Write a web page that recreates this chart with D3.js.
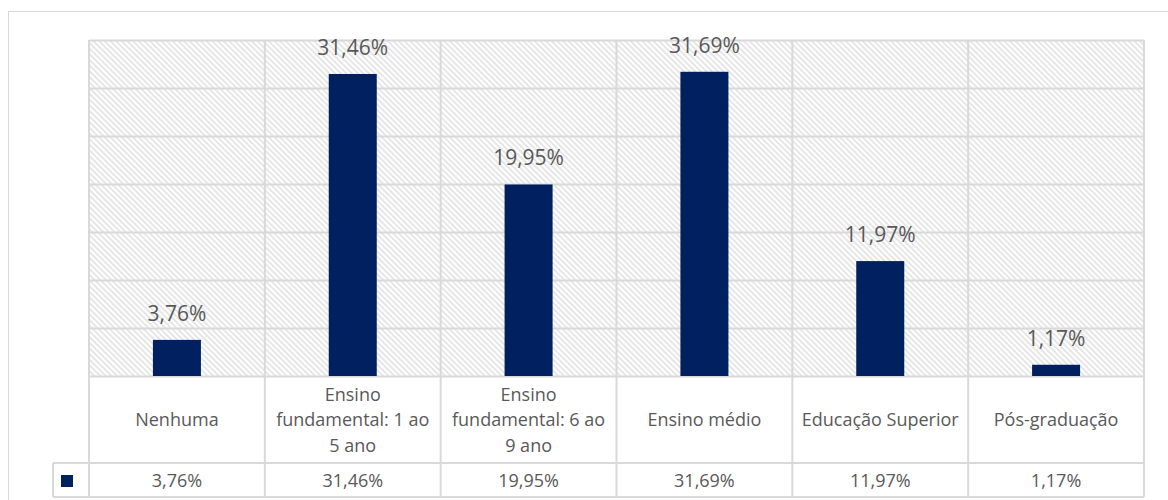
<!DOCTYPE html>
<html>
<head>
<meta charset="utf-8">
<script src="https://cdn.jsdelivr.net/npm/d3@7"></script>
<style>
  html, body { margin: 0; padding: 0; background: #fff; }
  svg { display: block; }
  text { font-family: "Open Sans", "Noto Sans", sans-serif; fill: #595959; }
</style>
</head>
<body>
<svg id="chart" width="1168" height="500"></svg>
<script>
// Escolaridade — share of respondents per level
const categories = [
  "Nenhuma",
  "Ensino fundamental: 1 ao 5 ano",
  "Ensino fundamental: 6 ao 9 ano",
  "Ensino médio",
  "Educação Superior",
  "Pós-graduação"
];
const values = [3.76, 31.46, 19.95, 31.69, 11.97, 1.17];
const yTicks = [0, 5, 10, 15, 20, 25, 30, 35];

const fmt = v => v.toFixed(2).replace(".", ",") + "%";

const svg = d3.select("#chart");
const W = 1168, H = 500;

const plot = { left: 89, right: 1144, top: 40, bottom: 376 };
const table = { catBottom: 463, valBottom: 497, keyLeft: 53 };
const gridColor = "#d9d9d9";
const barColor = "#002060";

// hatched plot background
const defs = svg.append("defs");
const pat = defs.append("pattern")
  .attr("id", "hatch")
  .attr("patternUnits", "userSpaceOnUse")
  .attr("width", 4).attr("height", 4)
  .attr("patternTransform", "rotate(-45)");
pat.append("rect").attr("width", 4).attr("height", 4).attr("fill", "#fff");
pat.append("line")
  .attr("x1", 1).attr("y1", 0).attr("x2", 1).attr("y2", 4)
  .attr("stroke", "#dedede").attr("stroke-width", 1.5);

// chart frame
svg.append("rect")
  .attr("x", 8.5).attr("y", 11.5)
  .attr("width", W + 20).attr("height", H + 20)
  .attr("fill", "none").attr("stroke", gridColor).attr("stroke-width", 1);

svg.append("rect")
  .attr("x", plot.left).attr("y", plot.top)
  .attr("width", plot.right - plot.left).attr("height", plot.bottom - plot.top)
  .attr("fill", "url(#hatch)");

// scales
const y = d3.scaleLinear().domain([0, 35]).range([plot.bottom, plot.top]);
const xCell = d3.scaleBand().domain(categories).range([plot.left, plot.right]).padding(0);
const xBar = d3.scaleBand().domain(categories).range([plot.left, plot.right])
  .paddingInner(0.727).paddingOuter(0.3635);

// horizontal gridlines
const yAxis = d3.axisLeft(y).tickValues(yTicks).tickSize(-(plot.right - plot.left)).tickFormat("");
const gy = svg.append("g").attr("transform", `translate(${plot.left},0)`).call(yAxis);
gy.select(".domain").remove();
gy.selectAll(".tick line").attr("stroke", gridColor).attr("stroke-width", 2);

// bars
svg.append("g").selectAll("rect")
  .data(values)
  .join("rect")
  .attr("x", (d, i) => xBar(categories[i]))
  .attr("y", d => y(d))
  .attr("width", xBar.bandwidth())
  .attr("height", d => y(0) - y(d))
  .attr("fill", barColor);

// value labels above bars
svg.append("g").selectAll("text")
  .data(values)
  .join("text")
  .attr("x", (d, i) => xBar(categories[i]) + xBar.bandwidth() / 2)
  .attr("y", d => y(d) - 19)
  .attr("text-anchor", "middle")
  .attr("font-size", 21)
  .text(d => fmt(d));

// data table grid
const tg = svg.append("g").attr("stroke", gridColor).attr("stroke-width", 2).attr("fill", "none");
const bounds = categories.map(c => xCell(c)).concat([plot.right]);
bounds.forEach(xv => {
  tg.append("line").attr("x1", xv).attr("x2", xv).attr("y1", plot.top).attr("y2", table.valBottom);
});
tg.append("line").attr("x1", table.keyLeft).attr("x2", table.keyLeft)
  .attr("y1", table.catBottom).attr("y2", table.valBottom);
[table.catBottom, table.valBottom].forEach(yv => {
  tg.append("line").attr("x1", table.keyLeft).attr("x2", plot.right).attr("y1", yv).attr("y2", yv);
});

// category labels, word-wrapped to the cell width
const lineH = 25.5;
const catMid = (plot.bottom + table.catBottom) / 2;
categories.forEach(c => {
  const cx = xCell(c) + xCell.bandwidth() / 2;
  const t = svg.append("text").attr("text-anchor", "middle").attr("font-size", 18);
  const words = c.split(" ");
  const lines = [];
  let cur = [];
  const probe = t.append("tspan");
  words.forEach(w => {
    const trial = cur.concat([w]).join(" ");
    probe.text(trial);
    if (probe.node().getComputedTextLength() > xCell.bandwidth() - 12 && cur.length) {
      lines.push(cur.join(" "));
      cur = [w];
    } else {
      cur.push(w);
    }
  });
  if (cur.length) lines.push(cur.join(" "));
  probe.remove();
  const y0 = catMid - (lines.length - 1) * lineH / 2 + 6.5;
  lines.forEach((ln, i) => {
    t.append("tspan").attr("x", cx).attr("y", y0 + i * lineH).text(ln);
  });
});

// value row
svg.append("g").selectAll("text")
  .data(values)
  .join("text")
  .attr("x", (d, i) => xCell(categories[i]) + xCell.bandwidth() / 2)
  .attr("y", (table.catBottom + table.valBottom) / 2 + 6.5)
  .attr("text-anchor", "middle")
  .attr("font-size", 18)
  .text(d => fmt(d));

// legend key
svg.append("rect")
  .attr("x", 61).attr("y", 475).attr("width", 12).attr("height", 12)
  .attr("fill", barColor);
</script>
</body>
</html>
